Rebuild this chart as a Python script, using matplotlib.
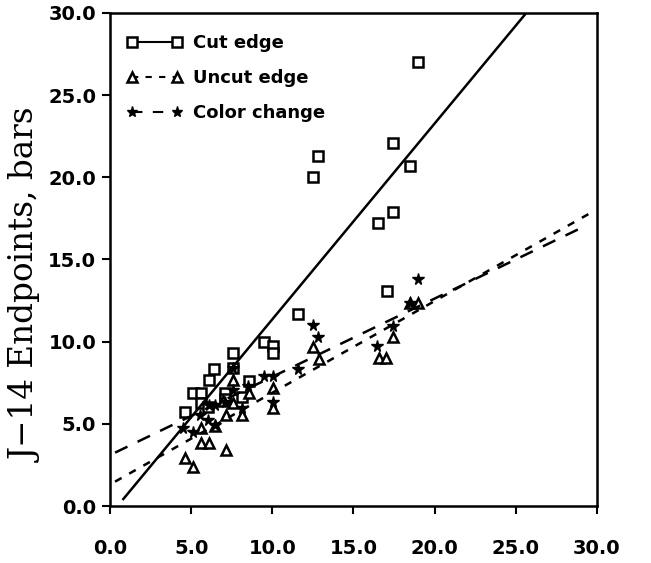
import matplotlib
matplotlib.use("Agg")
import matplotlib.pyplot as plt
import numpy as np

# ---- data ----
cut_x = [4.62, 5.11, 5.61, 5.61, 6.04, 6.10, 6.41, 7.58, 7.58, 7.09, 7.09, 8.13, 8.56,
         9.49, 10.04, 10.04, 11.58, 12.50, 12.80, 16.53, 17.05, 17.46, 17.46, 18.48, 18.96]
cut_y = [5.73, 6.89, 6.89, 6.28, 6.04, 7.68, 8.35, 8.41, 9.33, 6.89, 6.52, 6.65, 7.62,
         10.00, 9.76, 9.33, 11.70, 20.00, 21.30, 17.24, 13.11, 17.88, 22.07, 20.69, 26.99]

uncut_x = [4.62, 5.13, 5.61, 6.10, 5.61, 6.47, 7.13, 7.13, 7.60, 7.60, 8.11, 8.58,
           10.06, 10.06, 6.96, 12.53, 12.88, 16.60, 17.00, 17.46, 18.48, 18.98]
uncut_y = [2.91, 2.40, 3.86, 3.86, 4.77, 4.84, 3.41, 5.55, 6.26, 7.64, 5.55, 6.87,
           7.18, 5.96, 6.36, 9.67, 8.96, 9.02, 9.02, 10.26, 12.36, 12.36]

color_x = [4.52, 5.09, 5.55, 6.06, 6.10, 6.47, 6.47, 7.09, 7.58, 7.60, 8.11, 8.52,
           9.51, 10.06, 10.06, 11.60, 12.53, 12.84, 16.43, 17.46, 18.48, 18.96]
color_y = [4.74, 4.53, 5.55, 5.24, 6.16, 4.90, 6.16, 6.30, 8.41, 7.07, 5.96, 7.28,
           7.93, 7.93, 6.30, 8.33, 11.04, 10.29, 9.71, 10.93, 12.36, 13.78]

# regression lines: slope, intercept, x-range
cut_fit = (1.191, -0.55, 0.82, 25.57)
uncut_fit = (0.558, 1.31, 0.31, 29.47)
color_fit = (0.476, 3.10, 0.31, 28.86)

labels = ["Cut edge", "Uncut edge", "Color change"]
ticks = [0, 5, 10, 15, 20, 25, 30]

fig = plt.figure(figsize=(6.51, 5.63), dpi=100)
ax = fig.add_axes([0.169, 0.1012, 0.748, 0.876])

def fitline(f):
    s, b, x0, x1 = f
    xs = np.array([x0, x1])
    return xs, s * xs + b

ms = dict(markeredgewidth=1.8)
ax.plot(cut_x, cut_y, ls='none', marker='s', mfc='white', mec='black', ms=7.5, **ms)
ax.plot(uncut_x, uncut_y, ls='none', marker='^', mfc='white', mec='black', ms=7, **ms)
ax.plot(color_x, color_y, ls='none', marker='*', mfc='black', mec='black', ms=8.5, markeredgewidth=1)

xs, ys = fitline(cut_fit)
ax.plot(xs, ys, color='black', lw=1.8)
xs, ys = fitline(uncut_fit)
ax.plot(xs, ys, color='black', lw=1.8, dashes=(3, 3.5))
xs, ys = fitline(color_fit)
ax.plot(xs, ys, color='black', lw=1.8, dashes=(5.5, 4.5))

# legend proxies
h1, = ax.plot([], [], color='black', lw=1.5, marker='s', mfc='white', mec='black', ms=7, **ms)
h2, = ax.plot([], [], color='black', lw=1.5, dashes=(3, 3.5), marker='^', mfc='white', mec='black', ms=6.5, **ms)
h3, = ax.plot([], [], color='black', lw=1.5, dashes=(5, 5), marker='*', mfc='black', mec='black', ms=8)
leg = ax.legend([h1, h2, h3], labels, loc='upper left', bbox_to_anchor=(0.0, 0.99),
                frameon=False, numpoints=2, handlelength=3.1, handletextpad=0.6,
                labelspacing=0.95, prop=dict(family='DejaVu Sans', weight='bold', size=13))

ax.set_xlim(0, 30)
ax.set_ylim(0, 30)
ax.set_xticks(ticks)
ax.set_yticks(ticks)
ax.set_xticklabels([f"{t:.1f}" for t in ticks], fontsize=14, fontweight='bold')
ax.set_yticklabels([f"{t:.1f}" for t in ticks], fontsize=14, fontweight='bold')
ax.tick_params(direction='out', length=6, width=1.5)
ax.tick_params(axis='x', pad=18)
ax.tick_params(axis='y', pad=4)
for sp in ax.spines.values():
    sp.set_linewidth(1.8)

ax.set_ylabel("J\u221214 Endpoints, bars", fontsize=23.5, family='DejaVu Serif')
ax.yaxis.set_label_coords(-0.138, 0.448)

fig.savefig("out.png", dpi=100)
